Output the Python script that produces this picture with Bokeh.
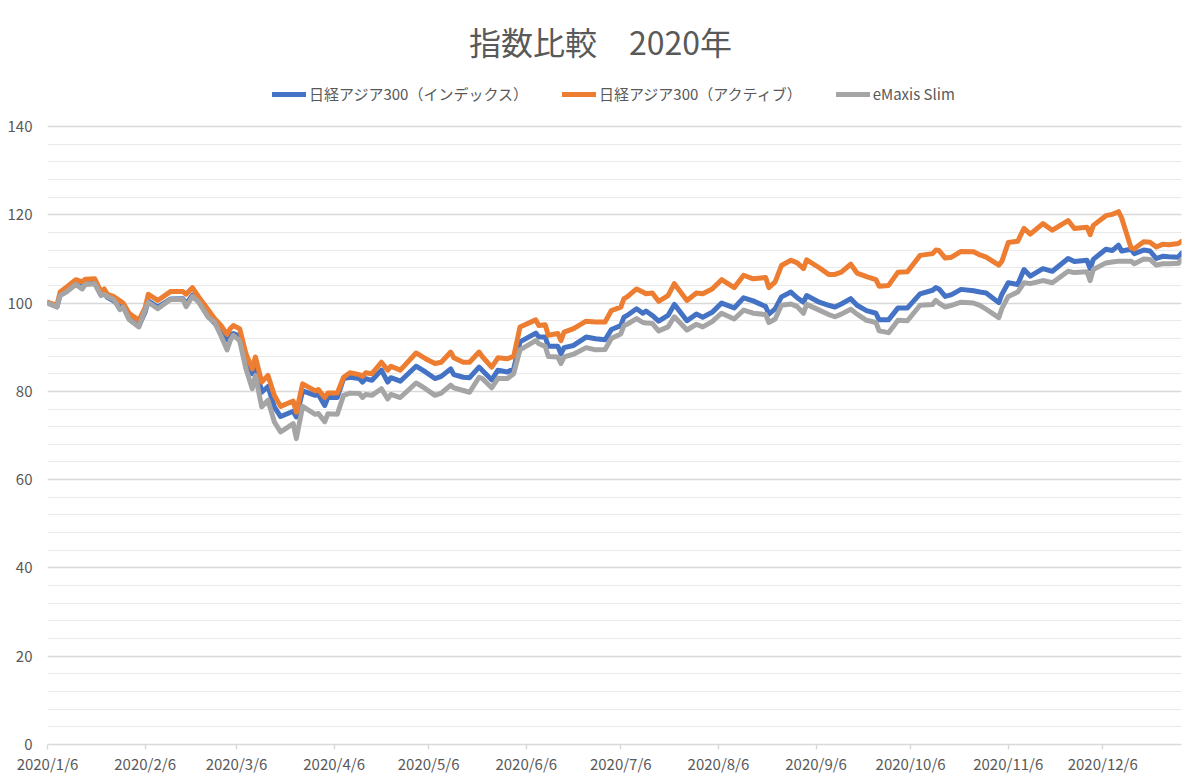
import pandas as pd
from bokeh.plotting import figure
from bokeh.models import (FixedTicker, CustomJSTickFormatter, Legend, LegendItem,
                          Label, Range1d, ColumnDataSource)
from bokeh.embed import file_html
from bokeh.resources import INLINE

# ---------------- data ----------------
dates = [
    "2020-01-06", "2020-01-09", "2020-01-10", "2020-01-12", "2020-01-15", "2020-01-17",
    "2020-01-18", "2020-01-21", "2020-01-23", "2020-01-24", "2020-01-25", "2020-01-27",
    "2020-01-29", "2020-01-30", "2020-02-01", "2020-02-04", "2020-02-06", "2020-02-07",
    "2020-02-10", "2020-02-14", "2020-02-18", "2020-02-19", "2020-02-21", "2020-02-23",
    "2020-02-26", "2020-02-28", "2020-03-01", "2020-03-03", "2020-03-04", "2020-03-05",
    "2020-03-07", "2020-03-09", "2020-03-11", "2020-03-12", "2020-03-14", "2020-03-16",
    "2020-03-18", "2020-03-20", "2020-03-24", "2020-03-25", "2020-03-27", "2020-03-31",
    "2020-04-01", "2020-04-03", "2020-04-04", "2020-04-07", "2020-04-09", "2020-04-11",
    "2020-04-14", "2020-04-15", "2020-04-16", "2020-04-18", "2020-04-21", "2020-04-23",
    "2020-04-24", "2020-04-27", "2020-05-02", "2020-05-05", "2020-05-08", "2020-05-10",
    "2020-05-13", "2020-05-14", "2020-05-17", "2020-05-19", "2020-05-22", "2020-05-23",
    "2020-05-26", "2020-05-28", "2020-05-31", "2020-06-02", "2020-06-04", "2020-06-09",
    "2020-06-10", "2020-06-12", "2020-06-13", "2020-06-16", "2020-06-17", "2020-06-18",
    "2020-06-21", "2020-06-25", "2020-06-28", "2020-07-01", "2020-07-03", "2020-07-06",
    "2020-07-07", "2020-07-08", "2020-07-11", "2020-07-13", "2020-07-14", "2020-07-16",
    "2020-07-18", "2020-07-21", "2020-07-23", "2020-07-27", "2020-07-30", "2020-08-01",
    "2020-08-04", "2020-08-07", "2020-08-11", "2020-08-14", "2020-08-17", "2020-08-21",
    "2020-08-22", "2020-08-24", "2020-08-26", "2020-08-29", "2020-08-31", "2020-09-02",
    "2020-09-03", "2020-09-07", "2020-09-10", "2020-09-12", "2020-09-14", "2020-09-17",
    "2020-09-19", "2020-09-22", "2020-09-25", "2020-09-26", "2020-09-29", "2020-10-02",
    "2020-10-05", "2020-10-09", "2020-10-13", "2020-10-14", "2020-10-15", "2020-10-17",
    "2020-10-19", "2020-10-22", "2020-10-26", "2020-10-28", "2020-10-30", "2020-11-03",
    "2020-11-04", "2020-11-06", "2020-11-09", "2020-11-11", "2020-11-13", "2020-11-17",
    "2020-11-20", "2020-11-25", "2020-11-27", "2020-12-01", "2020-12-02", "2020-12-03",
    "2020-12-07", "2020-12-09", "2020-12-11", "2020-12-12", "2020-12-15", "2020-12-16",
    "2020-12-19", "2020-12-21", "2020-12-23", "2020-12-25", "2020-12-27", "2020-12-30",
    "2020-12-31",
]

active_300 = [
    100.2, 99.5, 102.5, 103.6, 105.3, 104.8, 105.4, 105.5, 102.5, 103.2, 102.0, 101.5,
    100.5, 100.0, 97.6, 96.1, 99.0, 102.0, 100.6, 102.6, 102.6, 102.0, 103.5, 101.4,
    98.5, 96.5, 95.0, 92.9, 94.2, 94.9, 94.2, 88.5, 85.1, 87.8, 82.1, 83.6,
    79.1, 76.6, 77.8, 75.3, 81.7, 80.1, 80.4, 78.6, 79.6, 79.6, 83.2, 84.2,
    83.8, 83.4, 84.2, 84.0, 86.6, 84.8, 85.7, 84.8, 88.7, 87.4, 86.3, 86.6,
    88.9, 87.6, 86.6, 86.6, 88.9, 87.9, 85.5, 87.6, 87.4, 87.9, 94.6, 96.2,
    94.9, 95.1, 92.7, 93.1, 91.5, 93.4, 94.2, 95.9, 95.7, 95.7, 98.3, 99.1,
    101.0, 101.4, 103.2, 102.5, 102.1, 102.3, 100.4, 101.7, 104.4, 100.6, 102.3, 102.1,
    103.2, 105.3, 103.5, 106.3, 105.5, 105.8, 103.5, 104.8, 108.5, 109.7, 109.1, 107.8,
    109.8, 108.0, 106.5, 106.5, 107.0, 108.8, 106.8, 106.0, 105.3, 103.8, 104.0, 107.0,
    107.1, 110.8, 111.2, 112.0, 111.9, 110.2, 110.4, 111.7, 111.6, 110.9, 110.4, 108.6,
    109.5, 113.7, 114.0, 116.9, 115.6, 118.0, 116.5, 118.7, 116.9, 117.2, 115.5, 117.6,
    119.8, 120.1, 120.7, 119.3, 112.5, 112.3, 113.9, 113.8, 112.7, 113.3, 113.2, 113.5,
    114.0,
]

index_300 = [
    100.0, 99.2, 101.8, 102.8, 104.3, 103.5, 104.3, 104.5, 101.8, 102.3, 101.3, 100.5,
    99.2, 99.3, 96.3, 94.8, 98.0, 100.5, 99.1, 100.9, 101.0, 99.8, 101.8, 100.6,
    97.0, 95.5, 93.8, 91.7, 92.5, 93.1, 92.5, 87.0, 84.0, 86.4, 79.8, 81.1,
    76.5, 74.3, 75.5, 74.2, 80.1, 79.1, 79.3, 76.8, 78.6, 78.6, 82.9, 83.2,
    82.9, 82.1, 82.9, 82.5, 84.8, 82.1, 83.1, 82.3, 85.7, 84.4, 82.9, 83.4,
    85.1, 83.8, 83.2, 83.1, 85.5, 84.8, 82.6, 84.8, 84.4, 85.1, 91.2, 93.2,
    92.3, 92.3, 90.2, 90.2, 88.5, 89.9, 90.4, 92.3, 91.9, 91.7, 94.0, 94.9,
    96.8, 97.2, 98.7, 97.7, 98.2, 97.2, 95.9, 97.2, 99.7, 96.0, 97.5, 96.8,
    97.9, 100.0, 98.9, 101.2, 100.5, 99.2, 97.5, 98.7, 101.4, 102.5, 101.2, 100.2,
    101.7, 100.2, 99.5, 99.1, 99.8, 101.0, 99.5, 98.3, 97.7, 96.2, 96.2, 98.9,
    98.9, 102.1, 102.9, 103.5, 103.2, 101.5, 101.9, 103.1, 102.8, 102.5, 102.3, 100.1,
    102.0, 104.6, 104.2, 107.6, 106.1, 107.8, 107.2, 110.1, 109.4, 109.7, 107.8, 109.9,
    112.2, 111.9, 113.1, 111.8, 112.2, 111.2, 112.0, 111.8, 110.1, 110.6, 110.5, 110.4,
    111.3,
]

emaxis_slim = [
    100.0, 99.1, 101.7, 102.5, 104.2, 103.2, 104.2, 104.4, 101.7, 102.0, 101.5, 100.8,
    98.5, 99.1, 96.2, 94.6, 98.5, 100.2, 98.7, 100.8, 100.8, 99.2, 101.5, 100.2,
    96.8, 95.7, 92.7, 89.4, 91.5, 92.7, 91.5, 85.1, 80.6, 83.6, 76.5, 78.0,
    73.1, 70.8, 72.7, 69.3, 76.6, 74.8, 75.0, 73.1, 74.9, 74.8, 79.1, 79.6,
    79.5, 78.6, 79.3, 79.1, 80.6, 78.3, 79.3, 78.6, 81.9, 80.6, 79.1, 79.6,
    81.4, 80.8, 80.2, 79.8, 83.2, 82.9, 80.8, 82.9, 82.9, 84.0, 89.4, 91.5,
    90.8, 90.2, 87.9, 87.8, 86.3, 87.8, 88.4, 89.9, 89.4, 89.5, 92.0, 93.0,
    94.9, 95.2, 96.5, 95.6, 95.5, 95.4, 93.7, 94.6, 96.9, 93.9, 95.2, 94.6,
    95.8, 97.7, 96.4, 98.4, 97.7, 97.4, 95.6, 96.4, 99.5, 99.8, 99.2, 97.7,
    99.7, 98.4, 97.4, 96.9, 97.5, 98.6, 97.5, 96.1, 95.6, 93.7, 93.3, 96.1,
    96.0, 99.5, 99.7, 100.6, 100.0, 99.1, 99.5, 100.2, 100.0, 99.5, 98.6, 96.7,
    98.8, 101.5, 102.5, 104.6, 104.4, 105.1, 104.6, 107.2, 106.9, 107.1, 105.1, 107.6,
    109.1, 109.3, 109.5, 109.5, 109.5, 108.9, 110.0, 109.9, 108.6, 108.9, 108.9, 109.0,
    109.9,
]

series_names = ["日経アジア300（インデックス）", "日経アジア300（アクティブ）", "eMaxis Slim"]
series_colors = ["#4472C4", "#ED7D31", "#A5A5A5"]

x_tick_dates = ["2020-01-06", "2020-02-06", "2020-03-06", "2020-04-06", "2020-05-06",
                "2020-06-06", "2020-07-06", "2020-08-06", "2020-09-06", "2020-10-06",
                "2020-11-06", "2020-12-06"]
x_tick_labels = ["2020/1/6", "2020/2/6", "2020/3/6", "2020/4/6", "2020/5/6", "2020/6/6",
                 "2020/7/6", "2020/8/6", "2020/9/6", "2020/10/6", "2020/11/6", "2020/12/6"]
y_major_ticks = [0, 20, 40, 60, 80, 100, 120, 140]
y_minor_ticks = list(range(0, 141, 4))

title_text = "指数比較　2020年"

# ---------------- layout constants (pixels) ----------------
W, H = 1200, 783
LEFT, RIGHT, BOTTOM = 47, 19, 39
FRAME_H = H - BOTTOM            # frame reaches the top of the canvas
AXIS_H = 618                    # pixel height of the 0..140 value band
Y_MAX = 140

def ms(d):
    return pd.Timestamp(d).value / 1e6

FONT = "Noto Sans CJK JP"
TXT = "#595959"

src = ColumnDataSource(dict(
    date=pd.to_datetime(dates),
    idx=index_300, act=active_300, slim=emaxis_slim,
))

p = figure(width=W, height=H, x_axis_type="datetime",
           output_backend="svg", toolbar_location=None,
           x_range=Range1d(ms("2020-01-06"), ms("2020-12-31")),
           # the frame extends above 140 to hold the title and legend, as in Excel
           y_range=Range1d(0, Y_MAX * FRAME_H / AXIS_H),
           min_border_left=LEFT, min_border_right=RIGHT,
           min_border_top=0, min_border_bottom=BOTTOM)
p.outline_line_color = None
p.background_fill_color = "white"
p.border_fill_color = "white"

# grid
p.xgrid.grid_line_color = None
p.ygrid.grid_line_color = "#D9D9D9"
p.ygrid.grid_line_width = 1.4
p.ygrid.minor_grid_line_color = "#EAEAEA"
p.ygrid.minor_grid_line_width = 1.0

# y axis
p.yaxis.ticker = FixedTicker(ticks=y_major_ticks, minor_ticks=y_minor_ticks)
p.yaxis.axis_line_color = None
p.yaxis.major_tick_line_color = None
p.yaxis.minor_tick_line_color = None
p.yaxis.major_label_standoff = 9
p.yaxis.major_label_text_font = FONT
p.yaxis.major_label_text_font_size = "15px"
p.yaxis.major_label_text_color = TXT

# x axis
p.xaxis.ticker = FixedTicker(ticks=[ms(d) for d in x_tick_dates])
p.xaxis.formatter = CustomJSTickFormatter(args=dict(labels=x_tick_labels),
                                          code="return labels[index];")
p.xaxis.axis_line_color = "#D9D9D9"
p.xaxis.axis_line_width = 1.4
p.xaxis.major_tick_line_color = "#D9D9D9"
p.xaxis.major_tick_line_width = 1.4
p.xaxis.major_tick_out = 5
p.xaxis.major_tick_in = 0
p.xaxis.minor_tick_line_color = None
p.xaxis.major_label_standoff = 3
p.xaxis.major_label_text_font = FONT
p.xaxis.major_label_text_font_size = "15px"
p.xaxis.major_label_text_color = TXT

# lines (Excel order: series 1 below, series 3 on top)
renderers = []
for col, color in zip(["idx", "act", "slim"], series_colors):
    r = p.line("date", col, source=src, line_color=color, line_width=5,
               line_join="round", line_cap="round")
    renderers.append(r)

# legend (frame-relative pixels: centre of row at page y = 94)
legend = Legend(items=[LegendItem(label=n, renderers=[r]) for n, r in zip(series_names, renderers)],
                orientation="horizontal", location=(225, FRAME_H - 94 - 10),
                glyph_width=34, glyph_height=20, label_height=20, label_standoff=3, spacing=34,
                padding=0, margin=0, border_line_color=None, background_fill_alpha=0,
                label_text_font=FONT, label_text_font_size="15px", label_text_color=TXT)
p.add_layout(legend)

# title (centre at page x = 600, y = 40)
title = Label(x=600 - LEFT, y=FRAME_H - 40, x_units="screen", y_units="screen",
              text=title_text, text_align="center", text_baseline="middle",
              text_font=FONT, text_font_size="32px", text_color=TXT)
p.add_layout(title)

open("out.html", "w").write(file_html(p, INLINE))
